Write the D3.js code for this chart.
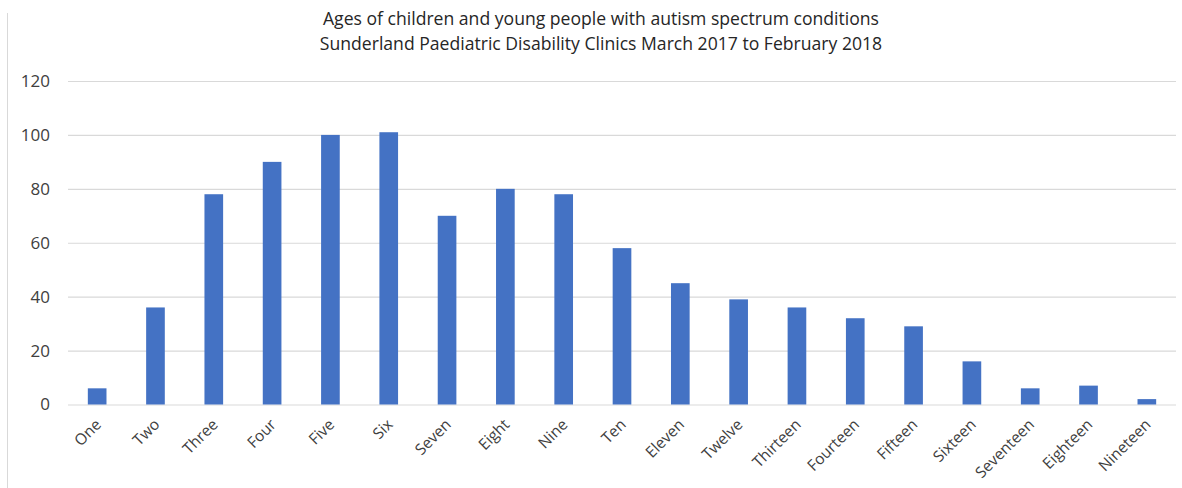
<!DOCTYPE html>
<html>
<head>
<meta charset="utf-8">
<script src="https://cdn.jsdelivr.net/npm/d3@7"></script>
<style>
  html, body { margin: 0; padding: 0; background: #fff; }
  svg { display: block; }
  text { font-family: "Open Sans", "Liberation Sans", sans-serif; }
</style>
</head>
<body>
<svg id="chart" width="1182" height="488"></svg>
<script>
// Age groups and number of children seen at each age
const ages = ["One","Two","Three","Four","Five","Six","Seven","Eight","Nine","Ten",
  "Eleven","Twelve","Thirteen","Fourteen","Fifteen","Sixteen","Seventeen","Eighteen","Nineteen"];
const counts = [6, 36, 78, 90, 100, 101, 70, 80, 78, 58, 45, 39, 36, 32, 29, 16, 6, 7, 2];
const yTicks = [0, 20, 40, 60, 80, 100, 120];
const titleLines = [
  "Ages of children and young people with autism spectrum conditions",
  "Sunderland Paediatric Disability Clinics March 2017 to February 2018"
];

const svg = d3.select("#chart");
const W = 1182, H = 488;
const plot = { left: 68, right: 1176, top: 81, bottom: 404.5 };

// outer frame edge on the left
svg.append("line")
  .attr("x1", 7.5).attr("x2", 7.5).attr("y1", 13).attr("y2", H)
  .attr("stroke", "#d9d9d9").attr("stroke-width", 1);

const x = d3.scaleBand().domain(ages).range([plot.left, plot.right]).paddingInner(0.68).paddingOuter(0.34);
const y = d3.scaleLinear().domain([0, 120]).range([plot.bottom, plot.top]);

// horizontal gridlines with value labels
const yAxis = d3.axisLeft(y).tickValues(yTicks).tickSize(-(plot.right - plot.left)).tickPadding(18);
const gy = svg.append("g").attr("transform", `translate(${plot.left},0)`).call(yAxis);
gy.select(".domain").remove();
gy.selectAll(".tick line").attr("stroke", "#d9d9d9").attr("stroke-width", 1.2);
gy.selectAll(".tick text").attr("fill", "#404040").style("font-size", "17px");

// bars
svg.append("g").selectAll("rect").data(ages).join("rect")
  .attr("x", d => x(d))
  .attr("width", x.bandwidth())
  .attr("y", (d, i) => y(counts[i]))
  .attr("height", (d, i) => y(0) - y(counts[i]))
  .attr("fill", "#4472C4");

// category axis with slanted labels
const xAxis = d3.axisBottom(x).tickSize(0).tickPadding(0);
const gx = svg.append("g").attr("transform", `translate(0,${plot.bottom})`).call(xAxis);
gx.select(".domain").remove();
gx.selectAll(".tick text")
  .attr("fill", "#404040")
  .style("font-size", "15.5px")
  .attr("text-anchor", "end")
  .attr("dy", null)
  .attr("transform", "translate(5,21) rotate(-45)");

// title
svg.append("g").selectAll("text").data(titleLines).join("text")
  .attr("x", 601)
  .attr("y", (d, i) => 25 + i * 25)
  .attr("text-anchor", "middle")
  .attr("fill", "#262626")
  .style("font-size", "17.6px")
  .text(d => d);
</script>
</body>
</html>
